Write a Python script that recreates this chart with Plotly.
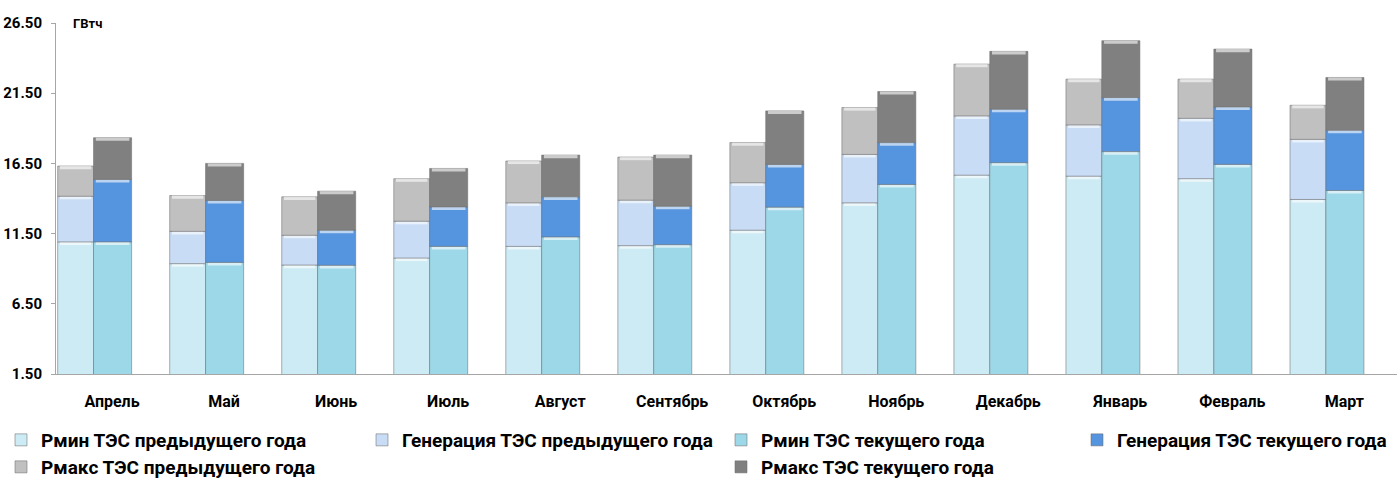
import plotly.graph_objects as go

months = ["Апрель", "Май", "Июнь", "Июль", "Август", "Сентябрь",
          "Октябрь", "Ноябрь", "Декабрь", "Январь", "Февраль", "Март"]

# Levels (GWh)
prev_pmin = [10.91, 9.36, 9.26, 9.76, 10.59, 10.64, 11.74, 13.69, 15.66, 15.59, 15.41, 13.93]
prev_gen = [14.16, 11.66, 11.38, 12.38, 13.69, 13.88, 15.12, 17.14, 19.88, 19.24, 19.71, 18.21]
prev_pmax = [16.31, 14.21, 14.12, 15.41, 16.67, 16.95, 17.98, 20.48, 23.57, 22.50, 22.50, 20.64]
cur_pmin = [10.91, 9.45, 9.24, 10.59, 11.26, 10.71, 13.38, 15.00, 16.55, 17.34, 16.43, 14.57]
cur_gen = [15.36, 13.86, 11.74, 13.40, 14.12, 13.45, 16.43, 17.98, 20.36, 21.19, 20.52, 18.86]
cur_pmax = [18.33, 16.50, 14.52, 16.14, 17.09, 17.09, 20.24, 21.62, 24.48, 25.24, 24.64, 22.62]

y_ticks = [1.5, 6.5, 11.5, 16.5, 21.5, 26.5]

names = ["Рмин ТЭС предыдущего года", "Генерация ТЭС предыдущего года",
         "Рмакс ТЭС предыдущего года", "Рмин ТЭС текущего года",
         "Генерация ТЭС текущего года", "Рмакс ТЭС текущего года"]
colors = ["#CDEBF4", "#C8DCF5", "#C0C0C0", "#9DD8E8", "#5594DE", "#808080"]

FONT = "Roboto, Arial, sans-serif"
line = dict(color="rgba(110,110,110,0.55)", width=1)
BEVEL = 0.22  # thickness of the light top edge of each block (y units)

# legend slot for each series: (legend id, marker left px, row centre px)
legend_slots = [
    ("legend", 20, 440), ("legend2", 381, 440), ("legend3", 20, 467),
    ("legend4", 740, 440), ("legend5", 1096, 440), ("legend6", 740, 467),
]

def diff(a, b):
    return [round(x - y, 3) for x, y in zip(a, b)]

fig = go.Figure()
groups = [
    (prev_pmin, prev_gen, prev_pmax, -0.485, 0.32, 0),
    (cur_pmin, cur_gen, cur_pmax, -0.165, 0.34, 3),
]
for pmin, gen, pmax, off, wid, k in groups:
    segs = [
        (pmin, [0] * len(pmin), pmin),
        (diff(gen, pmin), pmin, gen),
        (diff(pmax, gen), gen, pmax),
    ]
    for j, (vals, base, top) in enumerate(segs):
        idx = k + j
        fig.add_trace(go.Bar(
            x=months, y=vals, base=base, name=names[idx],
            offset=off, width=wid,
            marker=dict(color=colors[idx], line=line),
            legend=legend_slots[idx][0],
            hovertemplate="%{x}: %{y:.2f}<extra>" + names[idx] + "</extra>",
        ))
        # light bevel along the top edge of each block
        fig.add_trace(go.Bar(
            x=months, y=[BEVEL] * len(top),
            base=[t - BEVEL for t in top],
            offset=off + 0.02, width=wid - 0.04,
            marker=dict(color="rgba(255,255,255,0.6)", line=dict(width=0)),
            showlegend=False, hoverinfo="skip",
        ))

W, H = 1397, 480
legends = {}
for lid, mx, cy in legend_slots:
    legends[lid] = dict(
        orientation="h", xref="container", yref="container",
        x=max(0, mx - 19) / W, y=1 - cy / H, xanchor="left", yanchor="middle",
        font=dict(family=FONT, size=19, weight="bold", color="black"),
        bgcolor="rgba(0,0,0,0)", visible=True,
    )

fig.update_layout(
    width=W, height=H,
    barmode="overlay", showlegend=True,
    plot_bgcolor="white", paper_bgcolor="white",
    margin=dict(l=56, r=0, t=23, b=106),
    font=dict(family=FONT, color="black"),
    xaxis=dict(
        type="category", range=[-0.5, 11.47], automargin=False,
        showline=True, linecolor="#A6A6A6", linewidth=1,
        ticks="", showgrid=False,
        tickfont=dict(family=FONT, size=16, weight="bold", color="black"),
        ticklabelstandoff=13,
    ),
    yaxis=dict(
        range=[1.5, 26.5], tickvals=y_ticks, tickformat=".2f", automargin=False,
        showline=True, linecolor="#A6A6A6", linewidth=1,
        ticks="outside", ticklen=4, tickcolor="#A6A6A6",
        showgrid=False, zeroline=False, ticklabelstandoff=6,
        tickfont=dict(family=FONT, size=15, weight="bold", color="black"),
    ),
    annotations=[dict(
        text="ГВтч", xref="paper", yref="paper", x=0.011, y=1.0,
        xanchor="left", yanchor="middle", showarrow=False,
        font=dict(family=FONT, size=13, weight="bold", color="black"),
    )],
    **legends,
)

fig.write_html(
    "out.html",
    config={"displayModeBar": False},
    post_script="document.body.style.margin='0';document.body.style.overflow='hidden';",
)
